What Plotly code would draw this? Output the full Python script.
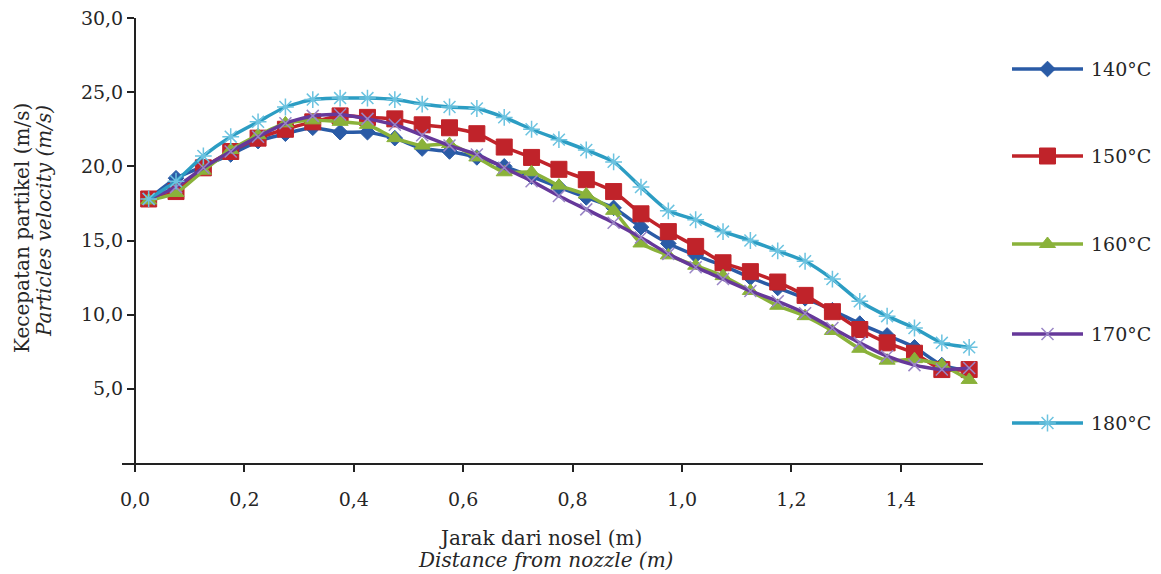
import plotly.graph_objects as go

W, H = 1161, 574

distance = [0.025, 0.075, 0.125, 0.175, 0.225, 0.275, 0.325, 0.375, 0.425, 0.475,
            0.525, 0.575, 0.625, 0.675, 0.725, 0.775, 0.825, 0.875, 0.925, 0.975,
            1.025, 1.075, 1.125, 1.175, 1.225, 1.275, 1.325, 1.375, 1.425, 1.475, 1.525]

v140 = [17.8, 19.2, 20.0, 20.8, 21.7, 22.2, 22.6, 22.3, 22.3, 21.9,
        21.2, 21.0, 20.6, 20.0, 19.3, 18.6, 17.9, 17.2, 15.9, 14.8,
        14.0, 13.3, 12.5, 11.8, 11.1, 10.3, 9.4, 8.6, 7.8, 6.6, 6.2]
v150 = [17.8, 18.3, 19.9, 21.0, 21.9, 22.5, 23.0, 23.4, 23.3, 23.2,
        22.8, 22.6, 22.2, 21.3, 20.6, 19.8, 19.1, 18.3, 16.8, 15.6,
        14.6, 13.5, 12.9, 12.2, 11.3, 10.2, 9.0, 8.1, 7.4, 6.3, 6.3]
v160 = [17.7, 18.2, 19.7, 21.1, 22.1, 22.9, 23.1, 23.0, 22.8, 21.9,
        21.4, 21.5, 20.6, 19.6, 19.6, 18.7, 18.1, 17.0, 14.8, 14.0,
        13.3, 12.6, 11.6, 10.6, 9.9, 8.9, 7.7, 6.9, 7.0, 6.6, 5.6]
v170 = [17.8, 18.6, 19.9, 21.0, 22.0, 22.9, 23.4, 23.5, 23.2, 22.8,
        22.1, 21.4, 20.8, 19.9, 19.0, 18.0, 17.1, 16.2, 15.2, 14.1,
        13.2, 12.4, 11.6, 10.9, 10.1, 9.1, 8.1, 7.2, 6.6, 6.3, 6.4]
v180 = [17.8, 19.0, 20.7, 22.0, 23.0, 24.0, 24.5, 24.6, 24.6, 24.5,
        24.2, 24.0, 23.9, 23.3, 22.5, 21.8, 21.1, 20.3, 18.6, 17.0,
        16.4, 15.6, 15.0, 14.3, 13.6, 12.4, 10.9, 9.9, 9.1, 8.1, 7.8]

series_names = ["140°C", "150°C", "160°C", "170°C", "180°C"]
series_values = [v140, v150, v160, v170, v180]

x_ticks = [0.0, 0.2, 0.4, 0.6, 0.8, 1.0, 1.2, 1.4]
y_ticks = [5, 10, 15, 20, 25, 30]

styles = [
    dict(line="#2A5BA6", marker="#2A5BA6", symbol="diamond", size=12, lw=1),
    dict(line="#C0232A", marker="#C0232A", symbol="square", size=16, lw=1),
    dict(line="#8AB23A", marker="#8AB23A", symbol="triangle-up", size=14, lw=1),
    dict(line="#66389A", marker="#9A86C6", symbol="x-thin-open", size=12, lw=1.5),
    dict(line="#2C9DC3", marker="#6CC3E0", symbol="asterisk-open", size=14, lw=1.5),
]

FONT = "DejaVu Serif"
TXT = "#262626"

# pixel geometry of the plot area
x_left_px, x_right_px = 122, 983
y_top_px, y_bottom_px = 18, 463
px_per_unit = 547.0
x0_px = 135
xr0 = (x_left_px - x0_px) / px_per_unit
xr1 = (x_right_px - x0_px) / px_per_unit

fig = go.Figure()
for name, vals, st in zip(series_names, series_values, styles):
    fig.add_trace(go.Scatter(
        x=distance, y=vals, name=name, mode="lines+markers",
        line=dict(color=st["line"], width=3.5, shape="spline", smoothing=0.6),
        marker=dict(symbol=st["symbol"], size=st["size"], color=st["marker"],
                    line=dict(width=st["lw"], color=st["marker"])),
        showlegend=False, xaxis="x", yaxis="y",
    ))

# custom legend (samples drawn on a helper axis in the right margin)
legend_rows = [69, 156, 244, 334, 423]
for name, st, yy in zip(series_names, styles, legend_rows):
    fig.add_trace(go.Scatter(
        x=[0, 1], y=[yy, yy], mode="lines",
        line=dict(color=st["line"], width=3.5),
        showlegend=False, hoverinfo="skip", xaxis="x2", yaxis="y2"))
    fig.add_trace(go.Scatter(
        x=[0.5], y=[yy], mode="markers",
        marker=dict(symbol=st["symbol"], size=st["size"], color=st["marker"],
                    line=dict(width=st["lw"], color=st["marker"])),
        showlegend=False, hoverinfo="skip", xaxis="x2", yaxis="y2"))
    fig.add_annotation(x=1089 / W, y=yy, xref="paper", yref="y2", text=name,
                       showarrow=False, xanchor="left", yanchor="middle",
                       font=dict(family=FONT, size=19, color=TXT))

# axis titles
title_font = dict(family=FONT, size=20, color=TXT)
fig.add_annotation(x=22 / W, y=1 - 228 / H, xref="paper", yref="paper",
                   xanchor="center", yanchor="middle",
                   text="Kecepatan partikel (m/s)", textangle=-90, showarrow=False,
                   font=title_font)
fig.add_annotation(x=44 / W, y=1 - 221 / H, xref="paper", yref="paper",
                   xanchor="center", yanchor="middle",
                   text="<i>Particles velocity (m/s)</i>", textangle=-90, showarrow=False,
                   font=title_font)
fig.add_annotation(x=540 / W, y=1 - 538 / H, xref="paper", yref="paper",
                   xanchor="center", yanchor="middle",
                   text="Jarak dari nosel (m)", showarrow=False, font=title_font)
fig.add_annotation(x=545 / W, y=1 - 560 / H, xref="paper", yref="paper",
                   xanchor="center", yanchor="middle",
                   text="<i>Distance from nozzle (m)</i>", showarrow=False, font=title_font)

fig.update_layout(
    width=W, height=H,
    margin=dict(l=0, r=0, t=0, b=0, autoexpand=False),
    paper_bgcolor="white", plot_bgcolor="white",
    separators=",.",
    showlegend=False,
    xaxis=dict(
        domain=[x_left_px / W, x_right_px / W], range=[xr0, xr1],
        tickvals=x_ticks, tickformat=".1f", ticks="outside", ticklen=7,
        tickwidth=2, tickcolor="#222", showline=True, linecolor="#222", linewidth=2,
        showgrid=False, zeroline=False, ticklabelstandoff=11,
        tickfont=dict(family=FONT, size=19, color=TXT), anchor="y",
    ),
    yaxis=dict(
        domain=[1 - y_bottom_px / H, 1 - y_top_px / H], range=[0, 30],
        anchor="free", position=x0_px / W,
        tickvals=y_ticks, tickformat=".1f", ticks="outside", ticklen=7,
        tickwidth=2, tickcolor="#222", showline=True, linecolor="#222", linewidth=2,
        showgrid=False, zeroline=False,
        tickfont=dict(family=FONT, size=19, color=TXT),
    ),
    xaxis2=dict(domain=[1012 / W, 1083 / W], range=[0, 1], visible=False,
                anchor="y2", fixedrange=True),
    yaxis2=dict(domain=[0, 1], range=[H, 0], visible=False, anchor="x2",
                fixedrange=True),
)

fig.write_html("out.html", config={"displayModeBar": False},
               post_script="document.body.style.margin='0px';document.body.style.overflow='hidden';")
